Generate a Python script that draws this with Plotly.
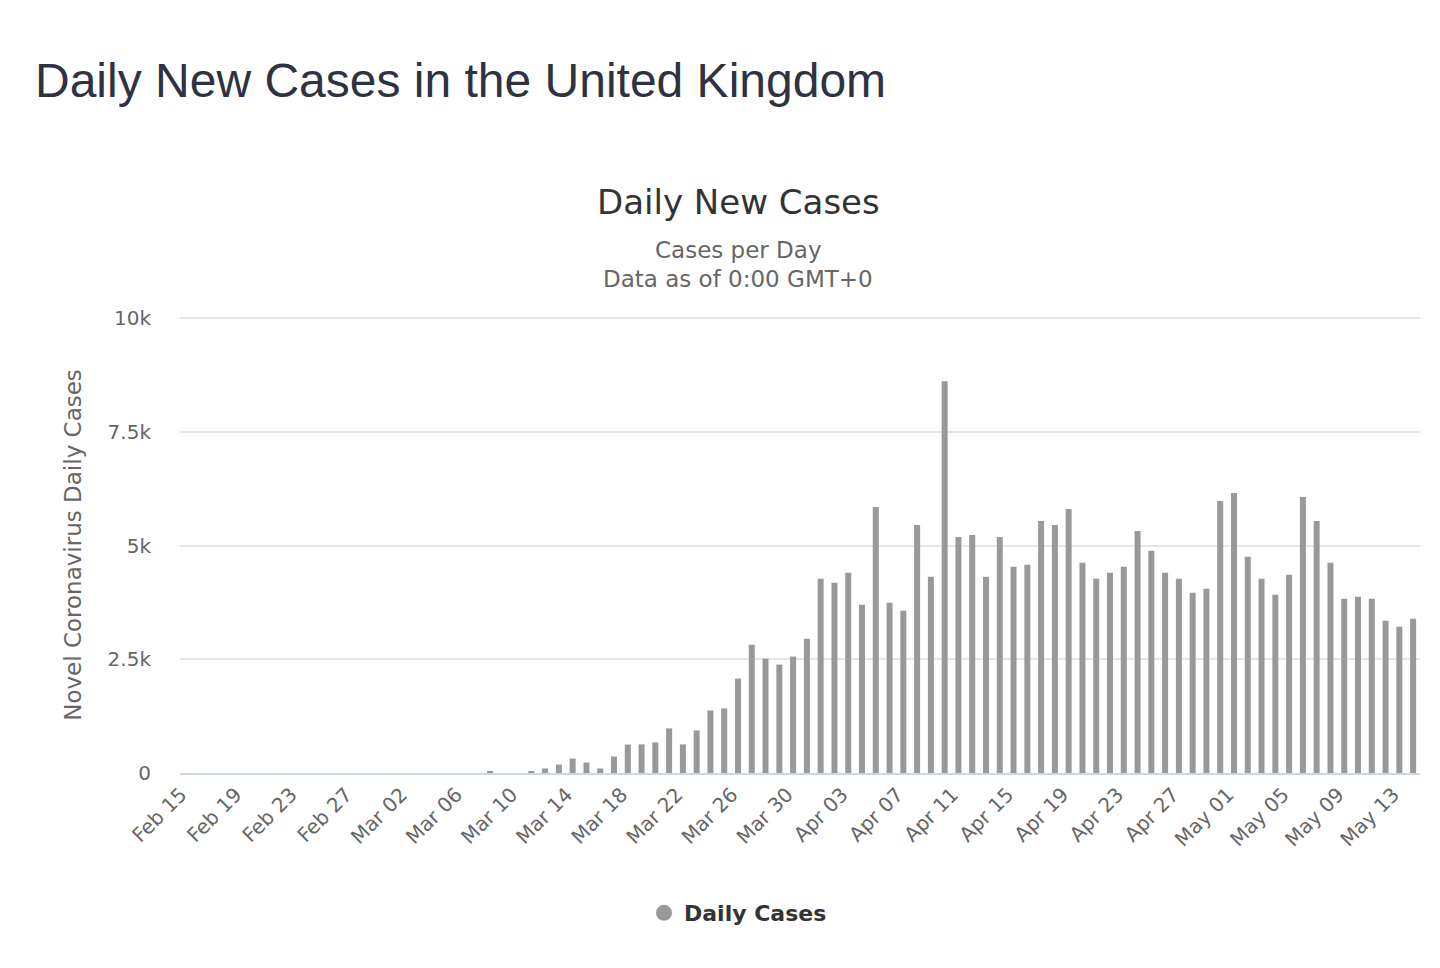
import pandas as pd
import plotly.graph_objects as go

# Categories: one per day, Feb 15 .. May 14 (2020)
dates = [d.strftime("%b %d") for d in pd.date_range("2020-02-15", "2020-05-14", freq="D")]

daily_cases = [
    0, 0, 0, 0, 0, 0, 0, 0, 0, 0,
    0, 0, 0, 0, 0, 0, 0, 0, 0, 0,
    0, 0, 46, 0, 0, 46, 99, 186, 318, 230,
    99, 362, 625, 629, 673, 980, 629, 936, 1375, 1419,
    2077, 2822, 2515, 2384, 2559, 2954, 4270, 4182, 4401, 3700,
    5849, 3743, 3568, 5454, 4314, 8612, 5190, 5234, 4314, 5190,
    4533, 4577, 5542, 5454, 5805, 4621, 4270, 4401, 4533, 5322,
    4884, 4401, 4270, 3963, 4050, 5980, 6156, 4752, 4270, 3919,
    4357, 6068, 5542, 4621, 3831, 3875, 3831, 3349, 3217, 3393,
]

y_tickvals = [0, 2500, 5000, 7500, 10000]
y_ticktext = ["0", "2.5k", "5k", "7.5k", "10k"]
x_tickvals = dates[::4]

BAR = "#999999"
FONT = "DejaVu Sans"

# page body has an 8px margin; figure coordinates = page coordinates - 8
W, H = 1440, 968
PLOT_L, PLOT_R, PLOT_T, PLOT_B = 172, 1412, 309, 765
PLOT_H = PLOT_B - PLOT_T
CENTER_X = (738 - 8 - PLOT_L) / (PLOT_R - PLOT_L)

fig = go.Figure()
fig.add_trace(go.Bar(
    x=dates, y=daily_cases, name="Daily Cases",
    marker=dict(color=BAR, line=dict(width=0)),
    showlegend=False,
))
fig.add_trace(go.Scatter(
    x=[None], y=[None], mode="markers", name="Daily Cases",
    marker=dict(color=BAR, size=24, symbol="circle"),
    showlegend=True,
))

fig.update_layout(
    width=W, height=H,
    margin=dict(l=PLOT_L, r=W - PLOT_R, t=PLOT_T, b=H - PLOT_B, pad=0),
    paper_bgcolor="white", plot_bgcolor="white",
    bargap=0.565,
    title=dict(
        text="Daily New Cases in the United Kingdom",
        font=dict(family="Liberation Sans, Arial", size=48, color="#2f3241"),
        x=(35 - 8) / W, xanchor="left", xref="container",
        y=1 - (80 - 8) / H, yanchor="middle", yref="container",
    ),
    font=dict(family=FONT, color="#666666"),
    xaxis=dict(
        type="category",
        tickmode="array", tickvals=x_tickvals, ticktext=x_tickvals,
        tickangle=-45,
        tickfont=dict(family=FONT, size=20, color="#666666"),
        ticklabelshift=-6,
        showgrid=False, showline=True, linecolor="#ccd6eb", linewidth=2,
        ticks="", zeroline=False,
        range=[-0.5, len(dates) - 0.5],
    ),
    yaxis=dict(
        range=[0, 10025],
        tickmode="array", tickvals=y_tickvals, ticktext=y_ticktext,
        tickfont=dict(family=FONT, size=20, color="#666666"),
        showgrid=True, gridcolor="#e6e6e6", gridwidth=2,
        zeroline=False, showline=False, ticks="",
        ticklabelstandoff=28,
        title=dict(text="Novel Coronavirus Daily Cases",
                   font=dict(family=FONT, size=23, color="#666666"),
                   standoff=19),
    ),
    legend=dict(
        orientation="h", x=CENTER_X, xanchor="center",
        y=-(913 - 773) / PLOT_H, yanchor="middle",
        font=dict(family=FONT, size=22, color="#333333", weight="bold"),
        itemsizing="trace",
    ),
    annotations=[
        dict(text="Daily New Cases", xref="paper", yref="paper",
             x=CENTER_X, y=1 + (317 - 202) / PLOT_H, xanchor="center", yanchor="middle",
             showarrow=False, font=dict(family=FONT, size=34, color="#333333")),
        dict(text="Cases per Day", xref="paper", yref="paper",
             x=CENTER_X, y=1 + (317 - 250) / PLOT_H, xanchor="center", yanchor="middle",
             showarrow=False, font=dict(family=FONT, size=23, color="#666666")),
        dict(text="Data as of 0:00 GMT+0", xref="paper", yref="paper",
             x=CENTER_X, y=1 + (317 - 279) / PLOT_H, xanchor="center", yanchor="middle",
             showarrow=False, font=dict(family=FONT, size=23, color="#666666")),
    ],
)

fig.write_html("out.html")
